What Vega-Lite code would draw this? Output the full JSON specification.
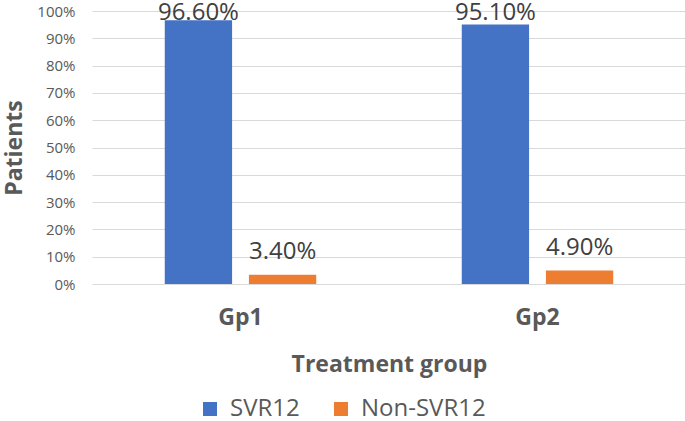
{
  "$schema": "https://vega.github.io/schema/vega-lite/v6.json",
  "width": 594,
  "height": 273,
  "autosize": "none",
  "padding": {"left": 92, "top": 11, "right": 0, "bottom": 137},
  "background": "white",
  "config": {"view": {"stroke": null}, "font": "Open Sans"},
  "data": {"values": [
    {"group": "Gp1", "series": "SVR12", "value": 0.966},
    {"group": "Gp1", "series": "Non-SVR12", "value": 0.034},
    {"group": "Gp2", "series": "SVR12", "value": 0.951},
    {"group": "Gp2", "series": "Non-SVR12", "value": 0.049}
  ]},
  "encoding": {
    "x": {
      "field": "group", "type": "nominal",
      "scale": {"paddingInner": 0.49, "paddingOuter": 0.245},
      "axis": {
        "title": "Treatment group", "labelAngle": 0, "ticks": false, "domain": false,
        "labelFont": "Open Sans", "labelFontSize": 23, "labelFontWeight": "bold", "labelColor": "#595959",
        "labelPadding": 22,
        "titleFont": "Open Sans", "titleFontSize": 23, "titleFontWeight": "bold", "titleColor": "#595959",
        "titlePadding": 24
      }
    },
    "xOffset": {"field": "series", "type": "nominal", "sort": ["SVR12", "Non-SVR12"], "scale": {"paddingInner": 0.2, "paddingOuter": 0}}
  },
  "layer": [
    {
      "mark": {"type": "bar"},
      "encoding": {
        "y": {
          "field": "value", "type": "quantitative",
          "scale": {"domain": [0, 1]},
          "axis": {
            "title": "Patients", "format": ".0%", "values": [0, 0.1, 0.2, 0.3, 0.4, 0.5, 0.6, 0.7, 0.8, 0.9, 1],
            "labelOverlap": false,
            "ticks": false, "domain": false, "gridColor": "#d9d9d9", "gridWidth": 1,
            "labelFont": "Open Sans", "labelFontSize": 15, "labelColor": "#595959", "labelPadding": 17,
            "titleFont": "Open Sans", "titleFontSize": 23, "titleFontWeight": "bold", "titleColor": "#595959",
            "titlePadding": 10
          }
        },
        "color": {
          "field": "series", "type": "nominal",
          "sort": ["SVR12", "Non-SVR12"],
          "scale": {"domain": ["SVR12", "Non-SVR12"], "range": ["#4472c4", "#ed7d31"]},
          "legend": {
            "title": null, "orient": "none", "direction": "horizontal",
            "legendX": 106, "legendY": 386,
            "symbolType": "square", "symbolSize": 196, "symbolStrokeWidth": 0,
            "labelFont": "Open Sans", "labelFontSize": 24, "labelColor": "#595959",
            "labelOffset": 8, "columnPadding": 29
          }
        }
      }
    },
    {
      "transform": [{"filter": "datum.value < 0.9"}],
      "mark": {"type": "text", "baseline": "alphabetic", "dy": -16, "fontSize": 24, "color": "#404040", "font": "Open Sans"},
      "encoding": {
        "y": {
          "field": "value", "type": "quantitative",
          "axis": {
            "title": "Patients", "format": ".0%", "values": [0, 0.1, 0.2, 0.3, 0.4, 0.5, 0.6, 0.7, 0.8, 0.9, 1],
            "labelOverlap": false,
            "ticks": false, "domain": false, "gridColor": "#d9d9d9", "gridWidth": 1,
            "labelFont": "Open Sans", "labelFontSize": 15, "labelColor": "#595959", "labelPadding": 17,
            "titleFont": "Open Sans", "titleFontSize": 23, "titleFontWeight": "bold", "titleColor": "#595959",
            "titlePadding": 10
          }
        },
        "text": {"field": "value", "type": "quantitative", "format": ".2%"}
      }
    },
    {
      "transform": [{"filter": "datum.value >= 0.9"}],
      "mark": {"type": "text", "baseline": "alphabetic", "dy": 9, "fontSize": 24, "color": "#404040", "font": "Open Sans"},
      "encoding": {
        "y": {
          "datum": 1, "type": "quantitative",
          "axis": {
            "title": "Patients", "format": ".0%", "values": [0, 0.1, 0.2, 0.3, 0.4, 0.5, 0.6, 0.7, 0.8, 0.9, 1],
            "labelOverlap": false,
            "ticks": false, "domain": false, "gridColor": "#d9d9d9", "gridWidth": 1,
            "labelFont": "Open Sans", "labelFontSize": 15, "labelColor": "#595959", "labelPadding": 17,
            "titleFont": "Open Sans", "titleFontSize": 23, "titleFontWeight": "bold", "titleColor": "#595959",
            "titlePadding": 10
          }
        },
        "text": {"field": "value", "type": "quantitative", "format": ".2%"}
      }
    }
  ]
}
